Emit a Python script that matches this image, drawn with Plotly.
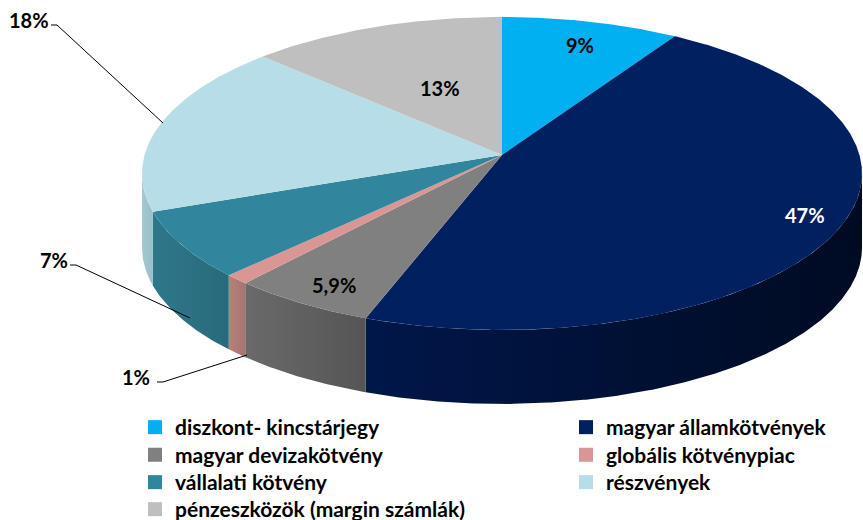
import numpy as np
import plotly.graph_objects as go

# ---------------- data ----------------
categories = [
    "diszkont- kincstárjegy",
    "magyar államkötvények",
    "magyar devizakötvény",
    "globális kötvénypiac",
    "vállalati kötvény",
    "részvények",
    "pénzeszközök (margin számlák)",
]
values = [9, 47, 5.9, 1, 7, 18, 13]
value_labels = ["9%", "47%", "5,9%", "1%", "7%", "18%", "13%"]

# ---------------- styles ----------------
top_colors = ["#00B0F0", "#002060", "#808080", "#D99694", "#31859C", "#B7DEE8", "#BFBFBF"]
side_colors = [
    ("#0090C8", "#007AAA"),
    ("#00174A", "#000B22"),
    ("#6A6A6A", "#555555"),
    ("#B8807B", "#A87471"),
    ("#2E788B", "#286A7B"),
    ("#A4C8D2", "#9BBFCA"),
    ("#A8A8A8", "#9A9A9A"),
]
label_colors = ["black", "white", "black", "black", "black", "black", "black"]
FONT = "Lato"

# 3D-pie projection geometry (pixel space)
CX, CY = 502.0, 155.0
A, B, K = 357.5, 154.3, 0.118
DEPTH = 74.0
VIS_LO = np.degrees(np.arccos(-K))
VIS_HI = 360 - VIS_LO


def proj(theta_deg, r=1.0):
    t = np.radians(theta_deg)
    u = r * np.sin(t)
    v = r * np.cos(t)
    w = 1 + K * v
    return CX + A * u / w, CY - B * v / w


total = sum(values)
angles = np.concatenate([[0], np.cumsum(values) / total * 360])

fig = go.Figure()

# side walls
for i, c in enumerate(categories):
    a, b = angles[i], angles[i + 1]
    lo, hi = max(a, VIS_LO), min(b, VIS_HI)
    if lo >= hi:
        continue
    th = np.linspace(lo, hi, max(4, int((hi - lo) * 3)))
    xs, ys = proj(th)
    px = np.concatenate([xs, xs[::-1], xs[:1]])
    py = np.concatenate([ys, ys[::-1] + DEPTH, ys[:1]])
    fig.add_trace(go.Scatter(
        x=px, y=py, mode="lines", fill="toself", line=dict(width=0),
        fillgradient=dict(type="horizontal",
                          colorscale=[[0, side_colors[i][0]], [1, side_colors[i][1]]]),
        showlegend=False, hoverinfo="skip"))

# top faces
for i, c in enumerate(categories):
    a, b = angles[i], angles[i + 1]
    th = np.linspace(a, b, max(4, int((b - a) * 3)))
    xs, ys = proj(th)
    px = np.concatenate([[CX], xs, [CX]])
    py = np.concatenate([[CY], ys, [CY]])
    fig.add_trace(go.Scatter(
        x=px, y=py, mode="lines", fill="toself", line=dict(width=0),
        fillcolor=top_colors[i], showlegend=False, hoverinfo="skip", name=c))

# legend: two columns, one legend box per entry (positions are layout)
col_x = [135, 566]
row_y = [427.5, 455, 482.5, 509.5]
legend_layouts = {}
for i, c in enumerate(categories):
    key = "legend" if i == 0 else f"legend{i + 1}"
    fig.add_trace(go.Scatter(
        x=[None], y=[None], mode="markers", name=c, legend=key,
        marker=dict(symbol="square", size=14, color=top_colors[i])))
    legend_layouts[key] = dict(
        x=col_x[i % 2] / 863, xanchor="left",
        y=1 - row_y[i // 2] / 520, yanchor="middle",
        font=dict(family=FONT, size=21, color="black", weight="bold"),
        bgcolor="rgba(0,0,0,0)", itemsizing="trace",
    )

# value labels (positions are layout)
label_pos = [(580, 45), (805, 215), (334, 285), (136, 377), (54, 260), (29, 20), (440, 88)]
for i, t in enumerate(value_labels):
    fig.add_annotation(x=label_pos[i][0], y=label_pos[i][1], text=t, showarrow=False,
                       font=dict(family=FONT, size=20, color=label_colors[i], weight="bold"),
                       xanchor="center", yanchor="middle")

leaders = [
    [(51, 25), (57, 25), (163, 123)],
    [(70, 265), (76, 265), (190, 318)],
    [(157, 382), (163, 382), (247, 355)],
]
for pts in leaders:
    for (x0, y0), (x1, y1) in zip(pts[:-1], pts[1:]):
        fig.add_shape(type="line", x0=x0, y0=y0, x1=x1, y1=y1,
                      line=dict(color="black", width=1))

fig.update_layout(
    width=863, height=520,
    margin=dict(l=0, r=0, t=0, b=0, autoexpand=False),
    paper_bgcolor="white", plot_bgcolor="white",
    xaxis=dict(range=[0, 863], visible=False, fixedrange=True),
    yaxis=dict(range=[520, 0], visible=False, fixedrange=True),
    **legend_layouts,
)

fig.write_html("out.html", config={"displayModeBar": False},
               post_script="document.body.style.margin='0';")
